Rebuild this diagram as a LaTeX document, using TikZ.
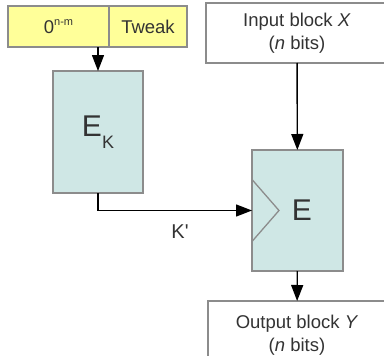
\documentclass[tikz,border=0pt]{standalone}
\usepackage{fontspec}
\setmainfont{Liberation Sans}
\usetikzlibrary{arrows.meta, positioning}
\definecolor{boxline}{RGB}{140,140,140}
\definecolor{keyfill}{RGB}{255,255,153}
\definecolor{blockfill}{RGB}{207,231,229}
\definecolor{labeltext}{RGB}{51,51,51}

\begin{document}
\begin{tikzpicture}[x=1pt, y=-1pt, font=\fontsize{18.5}{23}\selectfont, text=labeltext,
    box/.style={draw=boxline, line width=1.5pt, inner sep=0pt, outer sep=0pt, align=center},
    arr/.style={-{Triangle[length=16pt, width=12pt]}, line width=1.4pt}]
    \useasboundingbox (0,0) rectangle (384,356);
    \clip (0,0) rectangle (384,356);
    \node[box, fill=keyfill, minimum width=101pt, minimum height=41pt] (zero) at (58.5,26.5) {0\raisebox{0.45em}{\fontsize{11}{11}\selectfont n-m}};
    \node[box, fill=keyfill, minimum width=78pt, minimum height=41pt, right=0pt of zero] (tweak) {Tweak};
    \node[box, fill=blockfill, minimum width=90pt, minimum height=122pt] (ek) at (98,132) {\fontsize{30}{30}\selectfont E\raisebox{-0.42em}{\fontsize{18}{18}\selectfont K}};
    \node[box, fill=white, minimum width=182pt, minimum height=60pt] (input) at (297,33) {Input block \textit{X}\\(\textit{n} bits)};
    \node[box, fill=blockfill, minimum width=91pt, minimum height=121pt] (e) at (297.5,210.5) {\fontsize{30}{30}\selectfont\hspace{9pt}E};
    \node[box, fill=white, minimum width=178pt, minimum height=68pt] (output) at (297,335) {Output block \textit{Y}\\(\textit{n} bits)};
    \node[font=\fontsize{20}{20}\selectfont] (kprime) at (180,232) {K\textquotesingle};
    % key input triangle
    \draw[boxline, line width=1.3pt] ([yshift=31pt]e.west) -- ([xshift=27pt]e.west) -- ([yshift=-31pt]e.west);
    \draw[arr] (ek.north |- zero.south) -- (ek.north);
    \draw[arr] (input) -- (e);
    \draw[arr] (ek.south) |- (e.west);
    \draw[arr] (e) -- (output);
\end{tikzpicture}
\end{document}
